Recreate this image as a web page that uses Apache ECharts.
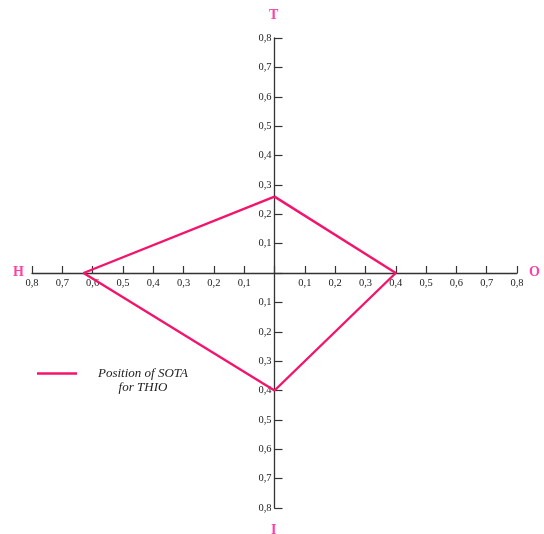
<!DOCTYPE html>
<html>
<head>
<meta charset="utf-8">
<script src="https://cdn.jsdelivr.net/npm/echarts@6/dist/echarts.min.js"></script>
<style>
  html, body { margin: 0; padding: 0; background: #fff; }
  #main { width: 544px; height: 534px; }
</style>
</head>
<body>
<div id="main"></div>
<script>
// diamond: T (top), O (right), I (bottom), H (left), back to T
var pointNames = ['T', 'O', 'I', 'H', 'T'];
var xValues = [0, 0.4, 0, -0.63, 0];
var yValues = [0.26, 0, -0.4, 0, 0.26];
var seriesName = 'Position of SOTA\nfor THIO';
var axisMax = 0.8;
var axisStep = 0.1;

var lineColor = '#f5146b';
var pink = '#ff3fa5';
var serif = '"Liberation Serif", "DejaVu Serif", serif';

var gridLeft = 32, gridRight = 27, gridTop = 38, gridBottom = 26;
var gridW = 544 - gridLeft - gridRight;
var gridH = 534 - gridTop - gridBottom;

var chartDom = document.getElementById('main');
var myChart = echarts.init(chartDom);

var pts = [];
for (var i = 0; i < xValues.length; i++) {
  pts.push({ name: pointNames[i], value: [xValues[i], yValues[i]] });
}

function tickLabel(v) {
  if (Math.abs(v) < 1e-9) return '';
  return Math.abs(v).toFixed(1).replace('.', ',');
}

var option = {
  animation: false,
  backgroundColor: '#fff',
  grid: { left: gridLeft, right: gridRight, top: gridTop, bottom: gridBottom, containLabel: false },
  legend: {
    data: [seriesName],
    left: 32,
    top: 348,
    itemWidth: 40,
    itemHeight: 14,
    icon: 'path://M0,6 L40,6 L40,8.5 L0,8.5 Z',
    formatter: function () {
      // empty first line keeps the swatch level with the first text line
      return '{a| }\n{a|Position of SOTA}\n{a|for THIO}';
    },
    textStyle: {
      rich: {
        a: {
          fontFamily: serif,
          fontStyle: 'italic',
          fontSize: 13,
          color: '#222',
          width: 122,
          align: 'center',
          lineHeight: 14
        }
      }
    }
  },
  xAxis: {
    type: 'value',
    min: -axisMax,
    max: axisMax,
    interval: axisStep,
    position: 'bottom',
    offset: -gridH / 2,
    splitLine: { show: false },
    axisLine: { onZero: false, lineStyle: { color: '#333', width: 1.3 } },
    axisTick: { inside: true, length: 7, lineStyle: { color: '#333', width: 1.2 } },
    axisLabel: {
      formatter: tickLabel,
      fontFamily: serif,
      fontSize: 10.5,
      color: '#222',
      margin: 5,
      showMinLabel: true,
      showMaxLabel: true
    }
  },
  yAxis: {
    type: 'value',
    min: -axisMax,
    max: axisMax,
    interval: axisStep,
    position: 'left',
    offset: -gridW / 2,
    splitLine: { show: false },
    axisLine: { onZero: false, lineStyle: { color: '#333', width: 1.3 } },
    axisTick: { inside: true, length: 8, lineStyle: { color: '#333', width: 1.2 } },
    axisLabel: {
      formatter: tickLabel,
      fontFamily: serif,
      fontSize: 10.5,
      color: '#222',
      margin: 3,
      showMinLabel: true,
      showMaxLabel: true
    }
  },
  graphic: [
    { type: 'text', left: 13, top: 265, style: { text: 'H', fontFamily: serif, fontWeight: 'bold', fontSize: 14, fill: pink } },
    { type: 'text', left: 529, top: 265, style: { text: 'O', fontFamily: serif, fontWeight: 'bold', fontSize: 14, fill: pink } },
    { type: 'text', left: 269, top: 8, style: { text: 'T', fontFamily: serif, fontWeight: 'bold', fontSize: 14, fill: pink } },
    { type: 'text', left: 271, top: 523, style: { text: 'I', fontFamily: serif, fontWeight: 'bold', fontSize: 14, fill: pink } }
  ],
  series: [
    {
      name: seriesName,
      type: 'line',
      data: pts,
      symbol: 'none',
      color: lineColor,
      lineStyle: { color: lineColor, width: 2.4 }
    }
  ]
};

option && myChart.setOption(option);
</script>
</body>
</html>
